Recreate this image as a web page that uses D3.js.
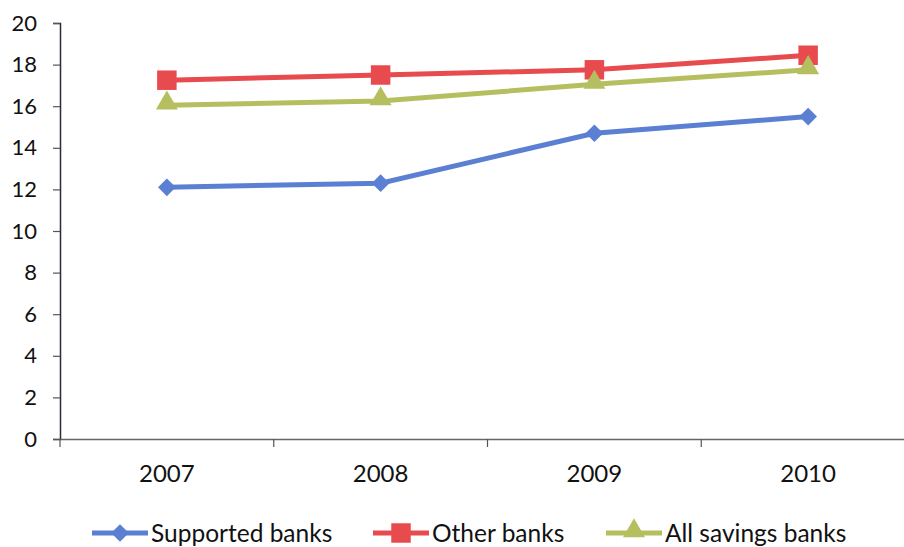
<!DOCTYPE html>
<html>
<head>
<meta charset="utf-8">
<script src="https://cdn.jsdelivr.net/npm/d3@7"></script>
<style>
  body { margin: 0; background: #fff; }
  svg { display: block; }
  text { font-family: Lato, "Open Sans", sans-serif; fill: #111; }
</style>
</head>
<body>
<div id="chart"></div>
<script>
// chart data
var years = ["2007", "2008", "2009", "2010"];
var supportedBanks = [12.1, 12.3, 14.7, 15.5];
var otherBanks = [17.25, 17.5, 17.75, 18.45];
var allSavingsBanks = [16.05, 16.25, 17.05, 17.75];
var yTicks = [0, 2, 4, 6, 8, 10, 12, 14, 16, 18, 20];

(function () {
    "use strict";

    var width = 904, height = 547;

    var series = [
        {name: "Supported banks", values: supportedBanks, color: "#5b7fd2", marker: "diamond"},
        {name: "Other banks", values: otherBanks, color: "#e84b4e", marker: "square"},
        {name: "All savings banks", values: allSavingsBanks, color: "#b5bf5f", marker: "triangle"}
    ];

    var svg = d3.select("#chart").append("svg")
        .attr("width", width)
        .attr("height", height);

    var x = d3.scaleBand().domain(years).range([60, 915]).padding(0);
    var y = d3.scaleLinear().domain([0, 20]).range([439, 23]);

    // y axis
    var yAxis = svg.append("g")
        .attr("transform", "translate(60,0)")
        .call(d3.axisLeft(y).tickValues(yTicks).tickSize(7).tickPadding(16));
    yAxis.select(".domain").attr("stroke", "#2a2a3a").attr("stroke-width", 1.5);
    yAxis.selectAll(".tick line").attr("stroke", "#555").attr("stroke-width", 1.2);
    yAxis.selectAll("text").style("font-size", "22px").attr("fill", "#111");

    // x axis (labels centered in bands, ticks on band edges)
    var xAxis = svg.append("g")
        .attr("transform", "translate(0,439)")
        .call(d3.axisBottom(x).tickSize(0).tickPadding(26));
    xAxis.select(".domain").attr("stroke", "#666").attr("stroke-width", 1.5);
    xAxis.selectAll("text").style("font-size", "24px").attr("fill", "#111");

    svg.append("g").selectAll("line")
        .data(years)
        .enter().append("line")
        .attr("x1", function (d) { return x(d); })
        .attr("x2", function (d) { return x(d); })
        .attr("y1", 439)
        .attr("y2", 447)
        .attr("stroke", "#555")
        .attr("stroke-width", 1.2);

    var cx = function (i) { return x(years[i]) + x.bandwidth() / 2; };

    var line = d3.line()
        .x(function (d, i) { return cx(i); })
        .y(function (d) { return y(d); });

    function markerPath(type) {
        if (type === "diamond") return d3.symbol().type(d3.symbolDiamond2).size(200)();
        if (type === "square") return d3.symbol().type(d3.symbolSquare).size(380)();
        return d3.symbol().type(d3.symbolTriangle).size(210)();
    }

    series.forEach(function (s) {
        var g = svg.append("g");
        g.append("path")
            .datum(s.values)
            .attr("d", line)
            .attr("fill", "none")
            .attr("stroke", s.color)
            .attr("stroke-width", 5);

        g.selectAll("path.pt")
            .data(s.values)
            .enter().append("path")
            .attr("class", "pt")
            .attr("d", markerPath(s.marker))
            .attr("transform", function (d, i) {
                var dy = s.marker === "triangle" ? -2 : 0;
                return "translate(" + cx(i) + "," + (y(d) + dy) + ")";
            })
            .attr("fill", s.color);
    });

    // legend
    var legendX = [92, 373, 606];
    var legend = svg.append("g");
    series.forEach(function (s, i) {
        var lg = legend.append("g").attr("transform", "translate(" + legendX[i] + ",533)");
        lg.append("line")
            .attr("x1", 0).attr("x2", 56)
            .attr("y1", 0).attr("y2", 0)
            .attr("stroke", s.color)
            .attr("stroke-width", 5);
        lg.append("path")
            .attr("d", markerPath(s.marker))
            .attr("transform", "translate(28," + (s.marker === "triangle" ? -2 : 0) + ")")
            .attr("fill", s.color);
        lg.append("text")
            .attr("x", 59)
            .attr("y", 0)
            .attr("dy", "0.35em")
            .style("font-size", "24.5px")
            .text(s.name);
    });
}());
</script>
</body>
</html>
